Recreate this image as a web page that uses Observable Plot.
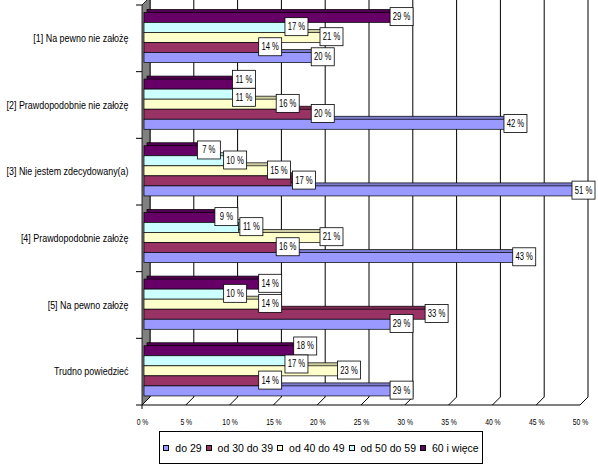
<!DOCTYPE html>
<html><head><meta charset="utf-8">
<script src="https://cdn.jsdelivr.net/npm/d3@7"></script>
<script src="https://cdn.jsdelivr.net/npm/@observablehq/plot@0.6"></script>
<style>
body{margin:0;background:#fff;font-family:"Liberation Sans",Arial,sans-serif;}
#wrap{position:relative;width:598px;height:464px;overflow:hidden;background:#fff;}
#wrap svg{position:absolute;left:0;top:0;}
#legend{position:absolute;left:159px;top:431px;width:324px;height:33px;border:1px solid #000;box-sizing:border-box;background:#fff;
display:flex;align-items:center;justify-content:center;font-size:10.5px;letter-spacing:0;white-space:nowrap;}
#legend .it{display:flex;align-items:center;margin:0 2px;}
#legend .sw{width:6px;height:6px;border:1px solid #000;box-sizing:border-box;margin-right:6px;}
</style></head><body><div id="wrap"></div>
<script>
const categories = ["[1] Na pewno nie założę", "[2] Prawdopodobnie nie założę", "[3] Nie jestem zdecydowany(a)", "[4] Prawdopodobnie założę", "[5] Na pewno założę", "Trudno powiedzieć"];
const series = ["do 29", "od 30 do 39", "od 40 do 49", "od 50 do 59", "60 i więce"];
const colors = ["#9999FF", "#993366", "#FFFFCC", "#CCFFFF", "#660066"];
const do29 = [20, 42, 51, 43, 29, 29];
const od30 = [14, 20, 17, 16, 33, 14];
const od40 = [21, 16, 15, 21, 14, 23];
const od50 = [17, 11, 10, 11, 10, 17];
const od60 = [29, 11, 7, 9, 14, 18];
const xTicks = [0, 5, 10, 15, 20, 25, 30, 35, 40, 45, 50];

const seriesValues = [do29, od30, od40, od50, od60];
const rows = [];
categories.forEach((cat, i) => {
  for (let j = series.length - 1; j >= 0; j--) rows.push({cat, series: series[j], value: seriesValues[j][i]});
});
const colorOf = s => colors[series.indexOf(s)];
const font = '"Liberation Sans", Arial, sans-serif';

const plot = Plot.plot({
  width: 598, height: 425,
  marginLeft: 142, marginRight: 18, marginTop: 5, marginBottom: 20,
  style: {fontFamily: font, fontSize: "10px", background: "transparent", overflow: "visible", color: "black"},
  facet: {data: rows, y: "cat"},
  fy: {domain: categories, padding: 0, round: false, axis: "left", label: null, tickSize: 0, tickPadding: 14},
  y: {domain: [...series].reverse(), paddingInner: 0, paddingOuter: 0.82, align: 0.45, round: false, axis: null},
  x: {domain: [0, 50], ticks: xTicks, tickFormat: d => d + " %", tickSize: 0, tickPadding: 13, label: null},
  color: {type: "identity"},
  marks: [
    Plot.barX(rows, {x: "value", y: "series", fill: d => d3.color(colorOf(d.series)).darker(0.6).formatHex(), stroke: "black", strokeWidth: 0.7, dx: 3, dy: -3, insetLeft: 2}),
    Plot.barX(rows, {x: "value", y: "series", fill: d => colorOf(d.series), stroke: "black", strokeWidth: 0.7, insetLeft: 2}),
    Plot.text(rows, {x: "value", y: "series", text: d => d.value + " %", dx: 5, dy: -1, fontSize: 10, fontFamily: font, fill: "black"})
  ]
});
document.getElementById("wrap").appendChild(plot);

(function decorate() {
  const svg = d3.select(plot);
  const xsc = plot.scale("x");
  const X = xsc.apply ? v => xsc.apply(v) : d3.scaleLinear(xsc.domain, xsc.range);
  const fys = plot.scale("fy");
  const y0 = Math.min(...fys.range), y1 = Math.max(...fys.range);
  const step = (y1 - y0) / categories.length;
  const depth = 8;
  const g = svg.insert("g", ":first-child").attr("stroke", "black").attr("stroke-width", 1).attr("fill", "none");
  xTicks.forEach(t => {
    const xb = X(t) + depth;
    g.append("line").attr("x1", xb).attr("x2", xb).attr("y1", y0 - depth - 5).attr("y2", y1 - depth);
    g.append("line").attr("x1", xb).attr("x2", X(t)).attr("y1", y1 - depth).attr("y2", y1);
  });
  g.append("polygon").attr("fill", "#808080").attr("stroke-width", 0.8)
    .attr("points", [[X(0), y1], [X(0), y0], [X(0) + depth, y0 - depth], [X(0) + depth, y1 - depth]].map(p => p.join(",")).join(" "));
  g.append("line").attr("x1", X(0)).attr("x2", X(50)).attr("y1", y1).attr("y2", y1);
  g.append("line").attr("x1", X(0)).attr("x2", X(0)).attr("y1", y1).attr("y2", y1 + 4);
  for (let k = 0; k <= categories.length; k++) {
    const y = y0 + k * step;
    g.append("line").attr("x1", X(0) - 6).attr("x2", X(0)).attr("y1", y).attr("y2", y);
  }

  // fit a family of texts so that a sample string gets a target width
  const fitTo = (sel, sample, target) => {
    let ref = null;
    sel.each(function() { if (this.textContent === sample) ref = this; });
    if (!ref) return;
    const ratio = target / ref.getComputedTextLength();
    sel.each(function() {
      this.setAttribute("textLength", this.getComputedTextLength() * ratio);
      this.setAttribute("lengthAdjust", "spacingAndGlyphs");
    });
  };
  const xt = svg.selectAll('g[aria-label^="x-axis"] text').attr("font-size", 9);
  fitTo(xt, "10 %", 15.5);
  const ft = svg.selectAll('g[aria-label^="fy-axis"] text').attr("font-size", 10);
  fitTo(ft, categories[1], 122);
  const lt = svg.selectAll('g[aria-label="text"] text');
  fitTo(lt, "42 %", 17.5);

  const W = 23, H = 18;
  const groups = new Map();
  lt.each(function() {
    const b = this.getBBox();
    const cx = b.x + b.width / 2, cy = b.y + b.height / 2;
    const tr = this.getAttribute("transform") || "";
    const rect = document.createElementNS("http://www.w3.org/2000/svg", "rect");
    rect.setAttribute("fill", "white"); rect.setAttribute("stroke", "black"); rect.setAttribute("stroke-width", 0.8);
    if (tr) rect.setAttribute("transform", tr);
    this.parentNode.insertBefore(rect, this);
    const m = this.getCTM();
    const item = {text: this, rect, tr, ox: 0, oy: 0, x: m.e + cx - W / 2, y: m.f + cy - H / 2, lx: cx - W / 2, ly: cy - H / 2};
    if (!groups.has(this.parentNode)) groups.set(this.parentNode, []);
    groups.get(this.parentNode).push(item);
  });
  groups.forEach(list => {
    list.forEach((a, i) => {
      for (let j = 0; j < i; j++) {
        const p = list[j];
        const ox = Math.min(a.x + a.ox + W, p.x + p.ox + W) - Math.max(a.x + a.ox, p.x + p.ox);
        const oy = Math.min(a.y + a.oy + H, p.y + p.oy + H) - Math.max(a.y + a.oy, p.y + p.oy);
        if (ox > 0 && oy > 0) {
          if (ox < W * 0.5) a.ox += ox + 2;
          else { p.oy -= oy / 2; a.oy += oy / 2; }
        }
      }
    });
    list.forEach(a => {
      const right = a.x + a.ox + W;
      if (right > 595) a.ox -= right - 595;
      a.rect.setAttribute("x", a.lx + a.ox); a.rect.setAttribute("y", a.ly + a.oy);
      a.rect.setAttribute("width", W); a.rect.setAttribute("height", H);
      if (a.ox || a.oy) a.text.setAttribute("transform", `translate(${a.ox},${a.oy}) ${a.tr}`);
    });
  });

  const legend = document.createElement("div");
  legend.id = "legend";
  series.forEach((s, i) => {
    const it = document.createElement("span"); it.className = "it";
    const sw = document.createElement("span"); sw.className = "sw"; sw.style.background = colors[i];
    const tx = document.createElement("span"); tx.textContent = s;
    it.appendChild(sw); it.appendChild(tx); legend.appendChild(it);
  });
  document.getElementById("wrap").appendChild(legend);
})();
</script>
</body></html>
